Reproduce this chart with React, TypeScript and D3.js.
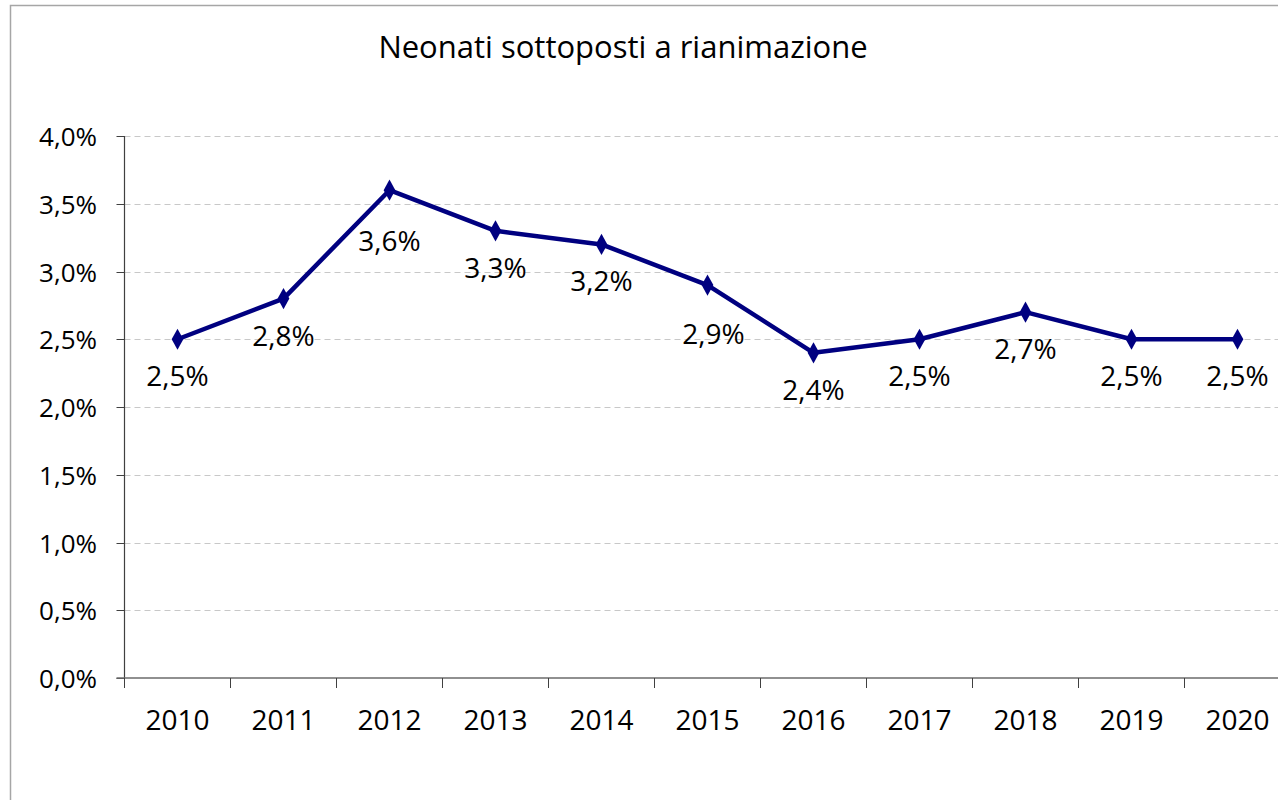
import React from "react";
import * as d3 from "d3";

const years = ["2010", "2011", "2012", "2013", "2014", "2015", "2016", "2017", "2018", "2019", "2020"];
const rates = [2.5, 2.8, 3.6, 3.3, 3.2, 2.9, 2.4, 2.5, 2.7, 2.5, 2.5];
const yTicks = [0, 0.5, 1, 1.5, 2, 2.5, 3, 3.5, 4];
const title = "Neonati sottoposti a rianimazione";

// small nudges for data labels that Excel moved (dx, dy)
const labelNudge: [number, number][] = [
  [0, 0], [0, 0], [0, 14], [0, 0], [0, 0], [6, 12], [0, 0], [0, 0], [0, 0], [0, 0], [0, 0],
];

const W = 1278;
const H = 800;
const left = 124.5;
const top = 136;
const bottom = 678;
const band = 106;

const font = "'Open Sans', 'Liberation Sans', sans-serif";
const fmt = (v: number) => v.toFixed(1).replace(".", ",") + "%";

export default function App() {
  const x = d3.scaleBand<string>().domain(years).range([left, left + band * years.length]);
  const y = d3.scaleLinear().domain([0, 4]).range([bottom, top]);
  const cx = (d: string) => (x(d) as number) + x.bandwidth() / 2;

  const line = d3
    .line<number>()
    .x((_, i) => cx(years[i]))
    .y((v) => y(v));

  const diamond = d3.symbol(d3.symbolDiamond, 90)() as string;
  const tickXs = years.map((d) => x(d) as number).concat([left + band * years.length]);

  return (
    <svg width={W} height={H} style={{ position: "absolute", left: 0, top: 0, background: "#fff" }}>
      <rect x={10.5} y={5.5} width={W + 10} height={H + 10} fill="#fff" stroke="#a6a6a6" strokeWidth={1.5} />
      <text x={623} y={58} textAnchor="middle" fontFamily={font} fontSize={31} fill="#000">
        {title}
      </text>

      {yTicks.map((t) => (
        <g key={t}>
          {t > 0 && (
            <line x1={left} x2={W} y1={Math.round(y(t)) + 0.5} y2={Math.round(y(t)) + 0.5}
              stroke="#c8c8c8" strokeDasharray="6,4" strokeWidth={1} />
          )}
          <line x1={left - 8} x2={left} y1={Math.round(y(t)) + 0.5} y2={Math.round(y(t)) + 0.5} stroke="#404040" />
          <text x={97} y={y(t) + 10} textAnchor="end" fontFamily={font} fontSize={26} fill="#000">
            {fmt(t)}
          </text>
        </g>
      ))}

      <line x1={left} x2={left} y1={top} y2={bottom} stroke="#404040" strokeWidth={1.2} />
      <line x1={left - 8} x2={W} y1={bottom} y2={bottom} stroke="#6b6b6b" strokeWidth={1.5} />
      {tickXs.map((tx, i) => (
        <line key={i} x1={tx} x2={tx} y1={bottom} y2={bottom + 10} stroke="#404040" />
      ))}
      {years.map((d) => (
        <text key={d} x={cx(d)} y={730} textAnchor="middle" fontFamily={font} fontSize={28} fill="#000">
          {d}
        </text>
      ))}

      <path d={line(rates) as string} fill="none" stroke="#000080" strokeWidth={4.5} strokeLinejoin="round" />
      {rates.map((v, i) => (
        <path key={i} d={diamond} transform={`translate(${cx(years[i])},${y(v)}) scale(1.15,1.2)`} fill="#000080" />
      ))}
      {rates.map((v, i) => (
        <text key={i} x={cx(years[i]) + labelNudge[i][0]} y={y(v) + 47 + labelNudge[i][1]}
          textAnchor="middle" fontFamily={font} fontSize={28} fill="#000">
          {fmt(v)}
        </text>
      ))}
    </svg>
  );
}
